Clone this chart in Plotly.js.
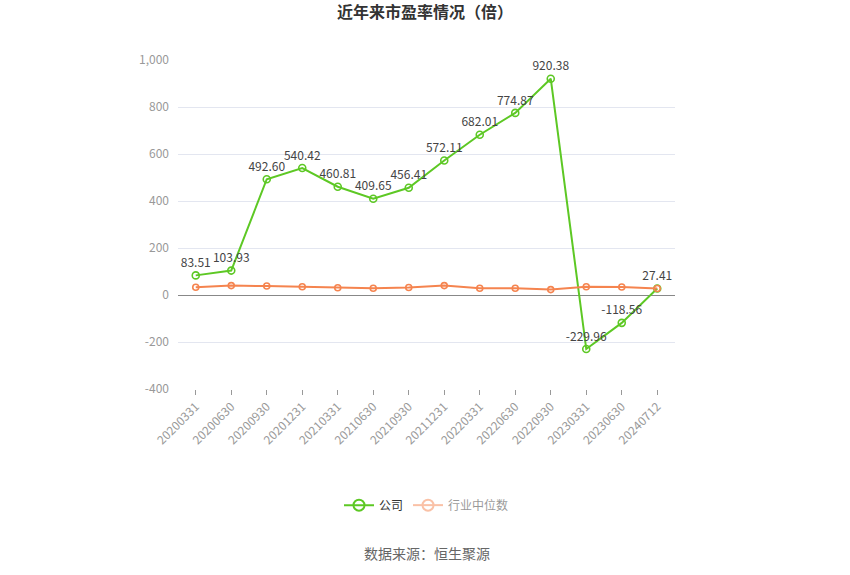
<!DOCTYPE html>
<html>
<head>
<meta charset="utf-8">
<script src="https://cdn.plot.ly/plotly-3.0.1.min.js"></script>
<style>
  html, body { margin: 0; padding: 0; background: #fff; }
  #plot { width: 850px; height: 575px; }
</style>
</head>
<body>
<div id="plot"></div>
<script>
// report dates on the x axis
const dates = ["20200331", "20200630", "20200930", "20201231", "20210331", "20210630", "20210930",
    "20211231", "20220331", "20220630", "20220930", "20230331", "20230630", "20240712"];

// company P/E
const companyPE = [83.51, 103.93, 492.60, 540.42, 460.81, 409.65, 456.41,
    572.11, 682.01, 774.87, 920.38, -229.96, -118.56, 27.41];

// industry median P/E, estimated from the line (no labels)
const industryPE = [33, 40, 38, 35, 31, 29, 32, 40, 29, 29, 23, 35, 34, 27.41];

const yTicks = [-400, -200, 0, 200, 400, 600, 800, 1000];
const yTickText = ["-400", "-200", "0", "200", "400", "600", "800", "1,000"];

const cjk = '"Noto Sans CJK SC", "Noto Sans", sans-serif';
const green = "#5dc824";
const orange = "#f5844f";

const companyTrace = {
    x: dates,
    y: companyPE,
    name: "公司",
    type: "scatter",
    mode: "lines+markers+text",
    text: companyPE.map(v => v.toFixed(2)),
    textposition: "top center",
    textfont: { family: cjk, size: 12, color: "#444" },
    line: { color: green, width: 2 },
    marker: { symbol: "circle-open", size: 7, color: green, line: { width: 1.6 } },
    cliponaxis: false,
    showlegend: false
};

const industryTrace = {
    x: dates,
    y: industryPE,
    name: "行业中位数",
    type: "scatter",
    mode: "lines+markers",
    line: { color: orange, width: 2 },
    marker: { symbol: "circle-open", size: 6, color: orange, line: { width: 1.6 } },
    cliponaxis: false,
    showlegend: false
};

// legend-only entries, with the bigger legend symbols
const companyLegend = {
    x: [null], y: [null], name: "公司", type: "scatter", mode: "lines+markers",
    line: { color: green, width: 2 },
    marker: { symbol: "circle-open", size: 11, color: green, line: { width: 2 } }
};
const industryLegend = {
    x: [null], y: [null], name: "行业中位数", type: "scatter", mode: "lines+markers",
    visible: "legendonly",
    line: { color: orange, width: 2 },
    marker: { symbol: "circle-open", size: 11, color: orange, line: { width: 2 } }
};

const layout = {
    width: 850,
    height: 575,
    margin: { l: 178, r: 175, t: 60, b: 186 },
    paper_bgcolor: "#fff",
    plot_bgcolor: "#fff",
    font: { family: cjk, size: 12, color: "#999" },
    title: {
        text: "<b>近年来市盈率情况（倍）</b>",
        font: { family: cjk, size: 16, color: "#333" },
        x: 0.5,
        xanchor: "center",
        y: 0.979,
        yanchor: "middle"
    },
    xaxis: {
        type: "category",
        tickangle: -45,
        tickfont: { size: 12, color: "#999" },
        showgrid: false,
        showline: false,
        ticks: "outside",
        ticklen: 5,
        tickcolor: "#999",
        zeroline: false,
        range: [-0.5, dates.length - 0.5]
    },
    yaxis: {
        range: [-400, 1000],
        tickvals: yTicks,
        ticktext: yTickText,
        tickfont: { size: 12, color: "#999" },
        gridcolor: "#e3e6f0",
        gridwidth: 1,
        showline: false,
        zeroline: true,
        zerolinecolor: "#888",
        zerolinewidth: 1,
        ticklabelstandoff: 8
    },
    showlegend: true,
    legend: {
        orientation: "h",
        x: 0.5,
        xanchor: "center",
        y: -0.353,
        yanchor: "middle",
        font: { family: cjk, size: 12, color: "#333" },
        itemwidth: 30,
        tracegroupgap: 0
    },
    annotations: [{
        text: "数据来源：恒生聚源",
        xref: "paper",
        yref: "paper",
        x: 0.5,
        y: -0.498,
        xanchor: "center",
        yanchor: "middle",
        showarrow: false,
        font: { family: cjk, size: 14, color: "#666" }
    }]
};

Plotly.newPlot("plot", [companyTrace, industryTrace, companyLegend, industryLegend], layout,
    { displayModeBar: false, staticPlot: true });
</script>
</body>
</html>
